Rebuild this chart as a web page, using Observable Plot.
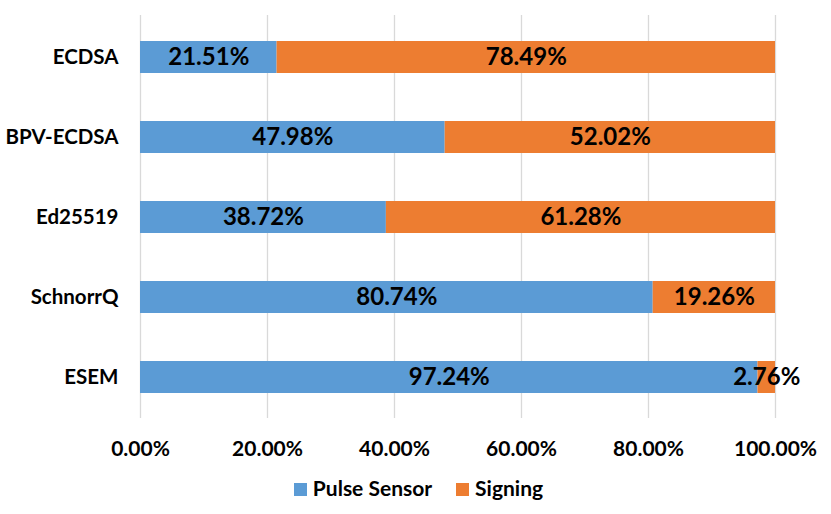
<!DOCTYPE html>
<html><head><meta charset="utf-8">
<script src="https://cdn.jsdelivr.net/npm/d3@7"></script>
<script src="https://cdn.jsdelivr.net/npm/@observablehq/plot@0.6"></script>
<style>
body{margin:0;background:#fff;font-family:Lato,sans-serif}
#legend{height:54px;display:flex;justify-content:center;align-items:center;font-weight:bold;font-size:21px;color:#000;gap:24px;padding-left:6px}
#legend span.sw{display:inline-block;width:13px;height:13px;margin-right:6px;vertical-align:middle;position:relative;top:-1px}
</style>
</head><body><div id="chart"></div><div id="legend"></div>
<script>
const categories = ["ECDSA","BPV-ECDSA","Ed25519","SchnorrQ","ESEM"];
const series = ["Pulse Sensor","Signing"];
const pulseSensor = [21.51,47.98,38.72,80.74,97.24];
const signing = [78.49,52.02,61.28,19.26,2.76];
const colors = ["#5B9BD5","#ED7D31"];
const xTicks = [0,20,40,60,80,100];

const data = [];
categories.forEach((c,i)=>{
  data.push({cat:c, series:series[0], value:pulseSensor[i]});
  data.push({cat:c, series:series[1], value:signing[i]});
});
const fmt = v => v.toFixed(2) + "%";

const plot = Plot.plot({
  width:831, height:460,
  marginLeft:140, marginRight:56, marginTop:15, marginBottom:42,
  style:{fontFamily:"Lato, sans-serif", fontWeight:"bold", color:"#000", background:"#fff", overflow:"visible"},
  x:{domain:[0,100], ticks:xTicks, tickFormat:fmt, label:null},
  y:{domain:categories, paddingInner:0.6, paddingOuter:0.3, label:null},
  color:{domain:series, range:colors},
  marks:[
    Plot.gridX(xTicks, {stroke:"#D9D9D9", strokeOpacity:1, strokeWidth:1.3}),
    Plot.barX(data, Plot.stackX({x:"value", y:"cat", fill:"series", z:"series", order:series})),
    Plot.text(data, Plot.stackX({x:"value", y:"cat", z:"series", order:series, text:d=>fmt(d.value), fontSize:24, fontWeight:"bold", fill:"#000"})),
    Plot.axisX(xTicks, {tickSize:0, tickPadding:23, fontSize:21, tickFormat:fmt, fill:"#000"}),
    Plot.axisY({tickSize:0, tickPadding:22, fontSize:20.5, fill:"#000"})
  ]
});
document.getElementById("chart").appendChild(plot);

const legend = document.getElementById("legend");
series.forEach((s,i)=>{
  const item = document.createElement("div");
  item.innerHTML = `<span class="sw" style="background:${colors[i]}"></span>${s}`;
  legend.appendChild(item);
});
</script>
</body></html>
